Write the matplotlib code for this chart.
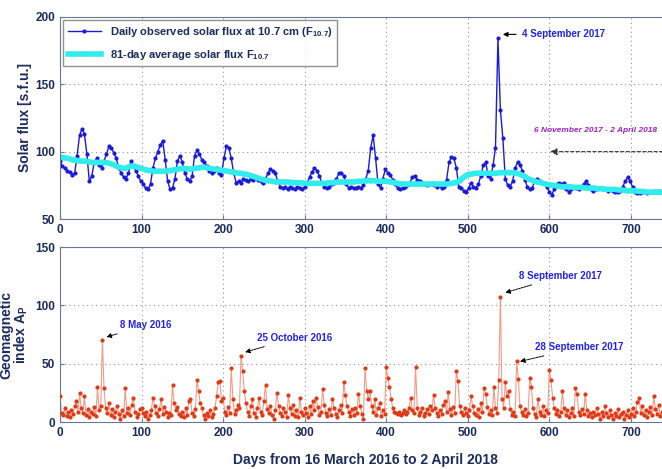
import matplotlib.pyplot as plt
import numpy as np

plt.rcParams['font.family'] = ['Liberation Sans Narrow', 'Liberation Sans', 'DejaVu Sans']
plt.rcParams['font.weight'] = 'bold'
plt.rcParams['mathtext.default'] = 'regular'

# daily solar flux F10.7, read every 3rd day
flux_days = np.arange(0, 748, 3)
flux = [93, 89, 88, 86, 85, 83, 84, 97, 112, 117,
        113, 98, 78, 82, 92, 95, 90, 88, 93, 98,
        104, 103, 99, 95, 88, 84, 81, 80, 84, 93,
        89, 86, 82, 78, 76, 73, 72, 76, 88, 95,
        100, 105, 108, 94, 78, 72, 73, 80, 93, 97,
        92, 84, 80, 78, 82, 97, 101, 98, 94, 92,
        89, 86, 84, 86, 88, 84, 83, 95, 104, 103,
        95, 84, 77, 78, 77, 80, 79, 78, 80, 79,
        81, 79, 78, 77, 80, 84, 87, 86, 84, 78,
        74, 73, 74, 72, 74, 73, 72, 74, 73, 72,
        74, 77, 81, 85, 88, 86, 82, 77, 74, 73,
        74, 76, 77, 80, 84, 84, 82, 76, 73, 74,
        73, 73, 74, 73, 75, 80, 86, 103, 112, 95,
        76, 73, 80, 87, 84, 83, 79, 76, 73, 72,
        73, 74, 75, 77, 81, 82, 79, 78, 77, 76,
        75, 76, 77, 75, 74, 75, 73, 74, 79, 92,
        96, 95, 88, 74, 73, 71, 70, 73, 77, 74,
        73, 76, 82, 90, 92, 82, 80, 90, 103, 184,
        131, 110, 80, 75, 74, 78, 88, 92, 90, 86,
        79, 74, 72, 73, 78, 80, 78, 77, 77, 74,
        70, 68, 72, 76, 77, 76, 77, 72, 70, 72,
        74, 73, 72, 74, 76, 78, 75, 72, 71, 72,
        73, 73, 72, 72, 71, 72, 71, 70, 70, 71,
        74, 78, 81, 78, 74, 70, 69, 69, 70, 70,
        69, 70, 70, 71, 70, 71, 70, 70, 70, 71]

# 81-day average, read every 5th day
avg_days = np.arange(0, 750, 5)
avg = [96, 95.5, 95, 94, 93.5, 93, 93, 92.5, 92, 92,
       92, 92, 91.5, 90.5, 89, 88, 87.5, 89, 89.5, 88.5,
       87.5, 86.5, 86, 85.5, 85.5, 85.5, 85.5, 86, 86.5, 87,
       87.5, 87.5, 87, 87.5, 88, 88.5, 88, 87.5, 87, 86.5,
       86, 85.5, 85, 84.5, 84, 83.5, 83, 82, 81, 80,
       79, 78.5, 78, 77.5, 77.5, 77.5, 77.5, 77, 77, 77,
       76.5, 76.5, 76.5, 76.5, 76.5, 76.5, 77, 77, 77.5, 77.5,
       77.5, 77.5, 77.5, 78, 78, 78.5, 78.5, 78.5, 78, 78,
       78, 77.5, 77, 76.5, 76, 76, 76, 76, 76, 76,
       76, 76, 76, 76, 76, 76, 76.5, 77, 78.5, 81,
       83, 83.5, 84, 84, 84, 84, 84, 84, 84.5, 84.5,
       84.5, 84.5, 84, 83, 81.5, 79.5, 78.5, 77.5, 77, 76,
       75.5, 75, 74.5, 74, 74, 74, 73.5, 73.5, 73.5, 73,
       73, 73, 72.5, 72.5, 72, 72, 72, 71.5, 71.5, 71,
       71, 71, 70.5, 70.5, 70, 70, 70, 70, 69.5, 69.5]

# geomagnetic index Ap, read every 2nd day
ap_days = np.arange(0, 748, 2)
ap = [22, 8, 6, 12, 5, 9, 4, 10, 7, 14,
      18, 9, 25, 12, 8, 22, 6, 11, 4, 9,
      7, 13, 5, 30, 10, 14, 70, 29, 12, 8,
      16, 6, 11, 4, 9, 14, 7, 3, 10, 5,
      29, 8, 12, 6, 15, 21, 9, 4, 7, 11,
      12, 8, 5, 9, 3, 6, 10, 21, 14, 8,
      5, 11, 20, 7, 13, 9, 4, 8, 6, 32,
      16, 10, 13, 7, 5, 9, 4, 12, 6, 18,
      20, 8, 5, 11, 36, 27, 16, 12, 6, 3,
      8, 5, 10, 4, 7, 12, 22, 34, 35, 18,
      21, 9, 6, 13, 8, 46, 20, 7, 10, 15,
      12, 57, 44, 27, 16, 9, 5, 14, 20, 8,
      4, 12, 21, 9, 6, 18, 32, 11, 8, 14,
      6, 3, 10, 25, 14, 8, 5, 12, 9, 4,
      23, 12, 7, 15, 5, 10, 4, 21, 9, 6,
      12, 8, 4, 14, 7, 18, 10, 21, 13, 6,
      9, 28, 15, 8, 5, 11, 6, 20, 12, 7,
      4, 10, 15, 8, 34, 23, 14, 9, 5, 11,
      6, 12, 8, 24, 14, 7, 3, 46, 27, 20,
      27, 14, 9, 20, 6, 12, 16, 5, 10, 7,
      47, 38, 30, 20, 12, 9, 8, 7, 9, 6,
      8, 10, 7, 9, 12, 21, 10, 8, 47, 12,
      6, 9, 12, 5, 8, 11, 7, 14, 10, 23,
      12, 8, 5, 10, 7, 15, 18, 9, 26, 11,
      6, 13, 8, 44, 35, 14, 9, 6, 12, 8,
      5, 10, 22, 14, 8, 6, 11, 4, 16, 9,
      29, 24, 13, 7, 10, 6, 30, 12, 8, 36,
      107, 20, 12, 34, 22, 27, 11, 6, 9, 5,
      52, 37, 14, 9, 6, 11, 5, 8, 38, 30,
      12, 7, 4, 20, 9, 6, 14, 5, 10, 8,
      45, 36, 21, 12, 7, 10, 5, 9, 27, 12,
      6, 10, 4, 8, 12, 5, 29, 24, 9, 6,
      11, 7, 24, 10, 5, 8, 4, 9, 6, 12,
      7, 3, 9, 5, 14, 8, 4, 10, 6, 3,
      8, 5, 11, 4, 7, 9, 3, 6, 10, 4,
      7, 12, 5, 9, 17, 21, 8, 14, 6, 10,
      4, 9, 13, 6, 22, 11, 7, 15, 5, 9,
      12, 6, 10, 8]

navy = '#1b2b5e'
spine_c = '#6a7890'

fig = plt.figure(figsize=(6.62, 4.69), dpi=100)
ax1 = fig.add_axes([0.0906, 0.533, 0.924, 0.431])
ax2 = fig.add_axes([0.0906, 0.100, 0.924, 0.373])

# top panel
ax1.plot(flux_days, flux, color='#1a1ad8', lw=1.0, marker='.', ms=4,
         label='Daily observed solar flux at 10.7 cm (F$_{10.7}$)')
ax1.plot(avg_days, avg, color='#30ecec', lw=4, marker='.', ms=4,
         label='81-day average solar flux F$_{10.7}$')
ax1.set_ylim(50, 200)
ax1.set_yticks([50, 100, 150, 200])
ax1.set_ylabel('Solar flux [s.f.u.]', color=navy, fontsize=10, fontweight='bold', labelpad=2)
leg = ax1.legend(loc='upper left', fontsize=8, fancybox=False, edgecolor='#777777',
                 borderaxespad=0.3, handlelength=3, labelspacing=0.8)
for t in leg.get_texts():
    t.set_color(navy)

ax1.annotate('4 September 2017', xy=(543, 187), xytext=(566, 187),
             color='#2222ee', fontsize=7, fontweight='bold', va='center',
             arrowprops=dict(arrowstyle='-|>', color='black', lw=0.8, shrinkB=0))
ax1.annotate('', xy=(601, 100), xytext=(780, 100),
             arrowprops=dict(arrowstyle='-|>', color='#333333', lw=0.8,
                             linestyle=(0, (3, 2)), shrinkA=0, shrinkB=0))
ax1.text(581, 116, '6 November 2017 - 2 April 2018', color='#9a22cc', fontsize=6,
         fontweight='bold', fontstyle='italic', va='center')

# bottom panel
ax2.plot(ap_days, ap, color='#f49a88', lw=0.8, zorder=2)
ax2.plot(ap_days, ap, color='#de3a16', lw=0, marker='.', ms=4, zorder=3)
ax2.set_ylim(0, 150)
ax2.set_yticks([0, 50, 100, 150])
ax2.set_ylabel('Geomagnetic\nindex A$_P$', color=navy, fontsize=10, fontweight='bold',
               labelpad=4, linespacing=0.9)
ax2.set_xlabel('Days from 16 March 2016 to 2 April 2018', color=navy, fontsize=10,
               fontweight='bold', labelpad=10)

notes = [('8 May 2016', (57, 73), (74, 83)),
         ('25 October 2016', (227, 60), (241, 72)),
         ('8 September 2017', (546, 111), (563, 125)),
         ('28 September 2017', (564, 52), (583, 64))]
for txt, tip, pos in notes:
    ax2.annotate(txt, xy=tip, xytext=pos, color='#2222ee', fontsize=7,
                 fontweight='bold', va='center',
                 arrowprops=dict(arrowstyle='-|>', color='black', lw=0.7,
                                 linestyle=(0, (2, 1)), shrinkA=2, shrinkB=0))

for ax in (ax1, ax2):
    ax.set_xlim(0, 750)
    ax.set_xticks(range(0, 800, 100))
    ax.grid(True, color='#8a95aa', linestyle=(0, (1, 3)), linewidth=0.8)
    ax.tick_params(direction='in', colors=spine_c, labelcolor=navy, labelsize=8.5, length=3)
    for s in ax.spines.values():
        s.set_color(spine_c)
    ax.spines['right'].set_visible(False)
    for lab in ax.get_xticklabels() + ax.get_yticklabels():
        lab.set_fontweight('bold')

fig.savefig('out.png', dpi=100)
